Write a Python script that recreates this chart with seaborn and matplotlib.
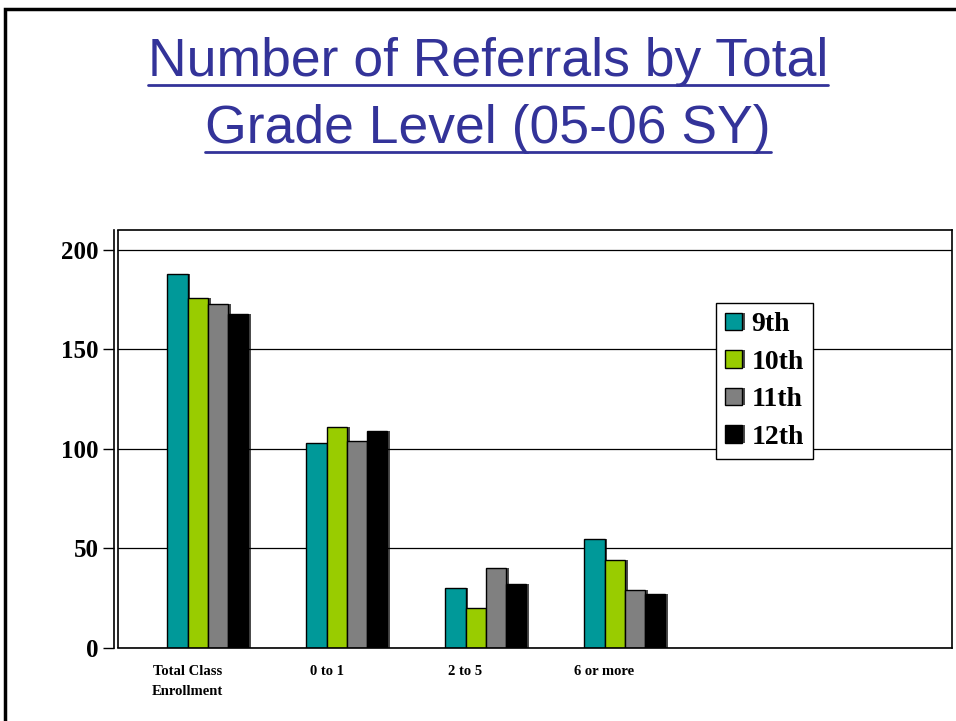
import numpy as np
import pandas as pd
import matplotlib
matplotlib.use('Agg')
import matplotlib.pyplot as plt
import matplotlib.patheffects as pe
from matplotlib.patches import Rectangle
import seaborn as sns

# Data
categories = ['Total Class\nEnrollment', '0 to 1', '2 to 5', '6 or more']
grades = ['9th', '10th', '11th', '12th']
grade_9 = [188, 103, 30, 55]
grade_10 = [176, 111, 20, 44]
grade_11 = [173, 104, 40, 29]
grade_12 = [168, 109, 32, 27]
y_ticks = [0, 50, 100, 150, 200]
n_slots = 6

colors = ['#009999', '#99CC00', '#808080', '#000000']
title_lines = ['Number of Referrals by Total', 'Grade Level (05-06 SY)']

rows = []
for g, vals in zip(grades, [grade_9, grade_10, grade_11, grade_12]):
    for c, v in zip(categories, vals):
        rows.append({'category': c, 'grade': g, 'count': v})
df = pd.DataFrame(rows)

sns.set_style('white')
plt.rcParams['font.family'] = ['Liberation Serif', 'DejaVu Serif']
plt.rcParams['text.color'] = 'black'
plt.rcParams['xtick.color'] = 'black'
plt.rcParams['ytick.color'] = 'black'

fig = plt.figure(figsize=(9.56, 7.21), dpi=100)
ax = fig.add_axes([118 / 956, 73 / 721, 834 / 956, 418 / 721])

sns.barplot(data=df, x='category', y='count', hue='grade', order=categories,
            hue_order=grades, palette=colors, width=0.585, ax=ax,
            edgecolor='black', linewidth=1.0, saturation=1)

# bars sit one bar-width right of the slot centre in the original
for p in ax.patches:
    p.set_x(p.get_x() + p.get_width())
    p.set_path_effects([pe.SimplePatchShadow(offset=(2, 0), shadow_rgbFace='black', alpha=0.7),
                        pe.Normal()])

# spine offset first: it resets tick styling
for s in ['top', 'right', 'bottom']:
    ax.spines[s].set_color('black')
    ax.spines[s].set_linewidth(1.2)
ax.spines['left'].set_position(('outward', 3))
ax.spines['left'].set_linewidth(1.2)
ax.spines['left'].set_color('black')
ax.add_patch(Rectangle((0, 0), 0.0001, 1, transform=ax.transAxes, fill=False,
                       edgecolor='black', linewidth=1.2, clip_on=False))

ax.set_xlim(-0.5, n_slots - 0.5)
ax.set_ylim(0, 210)
ax.set_yticks(y_ticks)
ax.set_yticklabels([str(t) for t in y_ticks], fontsize=18, fontweight='bold', color='black')
ax.yaxis.grid(True, color='black', linewidth=0.9)
ax.set_axisbelow(True)

ax.set_xticks(range(len(categories)))
ax.set_xticklabels(categories, fontsize=10.5, fontweight='bold', linespacing=1.7, color='black')
ax.tick_params(axis='x', which='major', length=0, pad=12)
ax.set_xticks(np.arange(-0.5, n_slots, 1), minor=True)
ax.tick_params(axis='x', which='minor', length=8, width=1, color='black', direction='out')
ax.tick_params(axis='y', length=8, width=1, color='black', direction='out', left=True, pad=3)
ax.set_xlabel('')
ax.set_ylabel('')

handles, labels = ax.get_legend_handles_labels()
leg = ax.legend(handles, labels, loc='upper left', bbox_to_anchor=(0.717, 0.825),
                borderaxespad=0, frameon=True, fancybox=False, framealpha=1,
                handlelength=0.6, handleheight=0.6, handletextpad=0.35,
                labelspacing=0.45, borderpad=0.33, labelcolor='black',
                prop={'family': 'Liberation Serif', 'weight': 'bold', 'size': 20})
leg.get_frame().set_edgecolor('black')
leg.get_frame().set_linewidth(1.0)

# slide border
fig.patches.append(Rectangle((5 / 956, -0.1), 1.2, (721 - 9) / 721 + 0.1,
                             transform=fig.transFigure, fill=False,
                             edgecolor='black', linewidth=2.5))

# underlined title
title_color = '#333399'
fig.canvas.draw()
renderer = fig.canvas.get_renderer()
for i, line in enumerate(title_lines):
    y = 1 - (62 + i * 67) / 721
    t = fig.text(488 / 956, y, line, ha='center', va='center', color=title_color,
                 fontsize=38.5, family='Liberation Sans')
    bb = t.get_window_extent(renderer=renderer).transformed(fig.transFigure.inverted())
    uy = bb.y0 + 0.003
    fig.add_artist(plt.Line2D([bb.x0, bb.x1], [uy, uy], color=title_color,
                              linewidth=2, transform=fig.transFigure))

fig.savefig('out.png', dpi=100)
